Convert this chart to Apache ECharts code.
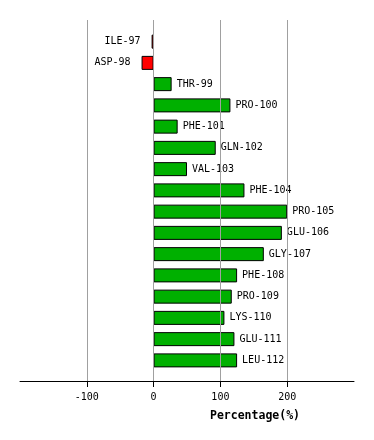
<!DOCTYPE html>
<html><head><meta charset="utf-8">
<script src="https://cdn.jsdelivr.net/npm/echarts@6/dist/echarts.min.js"></script>
<style>html,body{margin:0;padding:0;background:#fff}#c{width:374px;height:440px}</style>
</head><body><div id="c"></div>
<script>
const categories = ['ILE-97','ASP-98','THR-99','PRO-100','PHE-101','GLN-102','VAL-103','PHE-104','PRO-105','GLU-106','GLY-107','PHE-108','PRO-109','LYS-110','GLU-111','LEU-112'];
const values = [-3,-18,27,115,36,93,50,136,200,192,165,125,117,106,121,125];
const tickValues = [-100,0,100,200];
const axisMin = -200, axisMax = 300;

const font = 'DejaVu Sans Mono';
const chart = echarts.init(document.getElementById('c'));
chart.setOption({
  animation:false,
  grid:[
    {left:20,right:20,top:20,bottom:59},
    {left:20,right:20,top:31,bottom:69}
  ],
  xAxis:[
    {gridIndex:0,type:'value',min:axisMin,max:axisMax,interval:100,
     axisLine:{show:true,onZero:false,lineStyle:{color:'#000',width:1}},
     axisTick:{show:true,length:6,customValues:tickValues,lineStyle:{color:'#000'}},
     axisLabel:{customValues:tickValues,margin:11,color:'#000',fontFamily:font,fontSize:10,
       formatter:v=>String(v)},
     splitLine:{show:false},
     name:'Percentage(%)',nameLocation:'middle',nameGap:29,
     nameTextStyle:{color:'#000',fontFamily:font,fontWeight:'bold',fontSize:11.5,padding:[0,0,0,136]}
    },
    {gridIndex:1,type:'value',min:axisMin,max:axisMax,interval:100,show:false}
  ],
  yAxis:[
    {gridIndex:0,type:'value',show:false,min:0,max:1},
    {gridIndex:1,type:'category',data:categories,inverse:true,show:false}
  ],
  series:[{
    type:'line',xAxisIndex:0,yAxisIndex:0,data:[],silent:true,
    markLine:{symbol:'none',silent:true,label:{show:false},
      lineStyle:{color:'#a0a0a0',width:1,type:'solid'},
      data:tickValues.map(v=>({xAxis:v}))}
  },{
    type:'bar',xAxisIndex:1,yAxisIndex:1,barWidth:14,z:3,
    data:values.map(v=>({value:v,
      itemStyle:{color:v<0?'#ff0000':'#00b000',borderColor:'#000',borderWidth:1},
      label:{show:true,position:v<0?'left':'right',distance:v<0?11:5}})),
    label:{formatter:p=>categories[p.dataIndex],color:'#000',fontFamily:font,fontSize:10}
  }]
});
</script></body></html>
